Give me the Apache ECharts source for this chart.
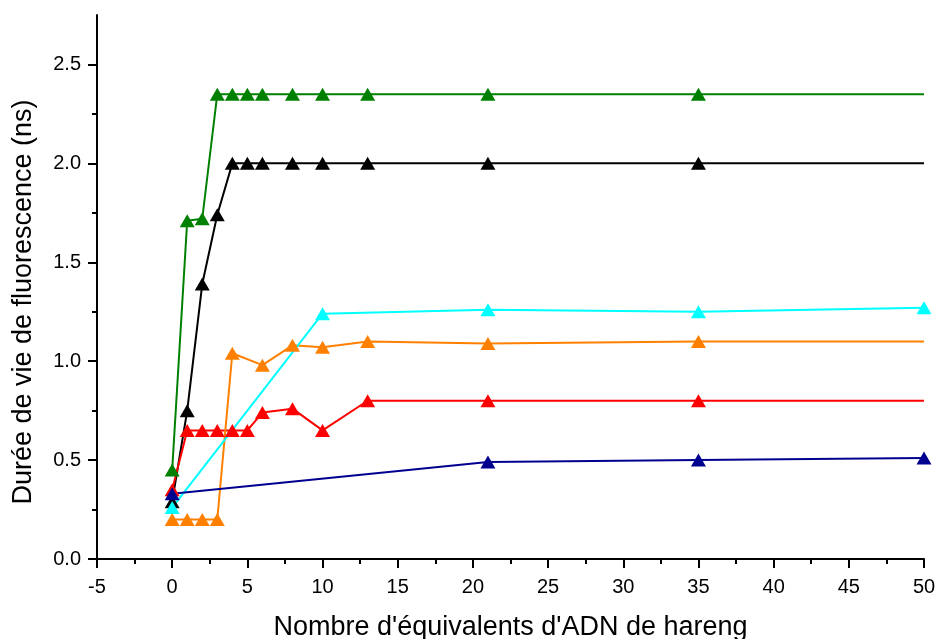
<!DOCTYPE html>
<html>
<head>
<meta charset="utf-8">
<script src="https://cdn.jsdelivr.net/npm/echarts@6/dist/echarts.min.js"></script>
<style>
html,body{margin:0;padding:0;background:#fff;}
#chart{width:939px;height:639px;}
</style>
</head>
<body>
<div id="chart"></div>
<script>
// Data
const xAxisName = "Nombre d'équivalents d'ADN de hareng";
const yAxisName = "Durée de vie de fluorescence (ns)";

const blackX = [0, 1, 2, 3, 4, 5, 6, 8, 10, 13, 21, 35, 50];
const blackY = [0.29, 0.75, 1.39, 1.74, 2.00, 2.00, 2.00, 2.00, 2.00, 2.00, 2.00, 2.00, 2.00];

const greenX = [0, 1, 2, 3, 4, 5, 6, 8, 10, 13, 21, 35, 50];
const greenY = [0.45, 1.71, 1.72, 2.35, 2.35, 2.35, 2.35, 2.35, 2.35, 2.35, 2.35, 2.35, 2.35];

const redX = [0, 1, 2, 3, 4, 5, 6, 8, 10, 13, 21, 35, 50];
const redY = [0.35, 0.65, 0.65, 0.65, 0.65, 0.65, 0.74, 0.76, 0.65, 0.80, 0.80, 0.80, 0.80];

const orangeX = [0, 1, 2, 3, 4, 6, 8, 10, 13, 21, 35, 50];
const orangeY = [0.20, 0.20, 0.20, 0.20, 1.04, 0.98, 1.08, 1.07, 1.10, 1.09, 1.10, 1.10];

const cyanX = [0, 10, 21, 35, 50];
const cyanY = [0.26, 1.24, 1.26, 1.25, 1.27];

const blueX = [0, 21, 35, 50];
const blueY = [0.33, 0.49, 0.50, 0.51];

// axis ranges and tick settings
const xMin = -5, xMax = 50, xStep = 5;
const yMin = 0, yMax = 2.75, yTickMax = 2.5, yStep = 0.5;

// last point of these series carries no visible marker in the reference
const hideLastMarker = { black: true, green: true, red: true, orange: true, cyan: false, blue: false };

function pts(xs, ys, hideLast) {
  return xs.map((x, i) => {
    const item = { value: [x, ys[i]] };
    if (hideLast && i === xs.length - 1) item.symbol = 'none';
    return item;
  });
}

function mk(name, color, xs, ys) {
  return {
    name: name,
    type: 'line',
    xAxisIndex: 0,
    yAxisIndex: 0,
    data: pts(xs, ys, hideLastMarker[name]),
    symbol: 'triangle',
    symbolSize: [15, 13],
    showAllSymbol: true,
    lineStyle: { color: color, width: 2 },
    itemStyle: { color: color, borderWidth: 0 },
    emphasis: { disabled: true },
    animation: false,
    clip: true
  };
}

const W = 939, H = 639;
const gLeft = 97, gRight = 15, gTop = 15, gBottom = 80;
const plotH = H - gTop - gBottom;
// second grid only carries the y ticks/labels, spanning 0 .. yTickMax
const tickGridTop = gTop + plotH * (yMax - yTickMax) / (yMax - yMin);

const font = 'Liberation Sans, Arial, sans-serif';
const black2 = { color: '#000', width: 2 };

const chart = echarts.init(document.getElementById('chart'), null, { renderer: 'canvas' });
chart.setOption({
  backgroundColor: '#fff',
  animation: false,
  grid: [
    { left: gLeft, right: gRight, top: gTop, bottom: gBottom, containLabel: false, outerBoundsMode: 'none' },
    { left: gLeft, right: gRight, top: tickGridTop, bottom: gBottom, containLabel: false, outerBoundsMode: 'none' }
  ],
  xAxis: [
    {
      gridIndex: 0,
      type: 'value',
      min: xMin, max: xMax, interval: xStep,
      name: xAxisName,
      nameLocation: 'middle',
      nameGap: 55,
      nameTextStyle: { fontFamily: font, fontSize: 27, color: '#000' },
      axisLine: { show: true, onZero: false, lineStyle: black2 },
      axisTick: { show: true, inside: false, length: 9, lineStyle: black2 },
      minorTick: { show: true, splitNumber: 2, length: 5, lineStyle: black2 },
      axisLabel: { fontFamily: font, fontSize: 20, color: '#000', margin: 18 },
      splitLine: { show: false },
      minorSplitLine: { show: false }
    },
    {
      gridIndex: 1,
      type: 'value',
      min: xMin, max: xMax,
      show: false
    }
  ],
  yAxis: [
    {
      gridIndex: 0,
      type: 'value',
      min: yMin, max: yMax,
      name: yAxisName,
      nameLocation: 'middle',
      nameGap: 60,
      nameTextStyle: { fontFamily: font, fontSize: 27, color: '#000', padding: [0, 30, 0, 0] },
      axisLine: { show: true, onZero: false, lineStyle: black2 },
      axisTick: { show: false },
      minorTick: { show: false },
      axisLabel: { show: false },
      splitLine: { show: false },
      minorSplitLine: { show: false }
    },
    {
      gridIndex: 1,
      type: 'value',
      min: yMin, max: yTickMax, interval: yStep,
      axisLine: { show: false, onZero: false },
      axisTick: { show: true, inside: false, length: 9, lineStyle: black2 },
      minorTick: { show: true, splitNumber: 2, length: 5, lineStyle: black2 },
      axisLabel: {
        fontFamily: font, fontSize: 20, color: '#000', margin: 16,
        formatter: function (v) { return v.toFixed(1); }
      },
      splitLine: { show: false },
      minorSplitLine: { show: false }
    }
  ],
  series: [
    mk('black', '#000000', blackX, blackY),
    mk('green', '#008000', greenX, greenY),
    mk('red', '#ff0000', redX, redY),
    mk('orange', '#ff8000', orangeX, orangeY),
    mk('cyan', '#00ffff', cyanX, cyanY),
    mk('blue', '#000090', blueX, blueY)
  ]
});
</script>
</body>
</html>
